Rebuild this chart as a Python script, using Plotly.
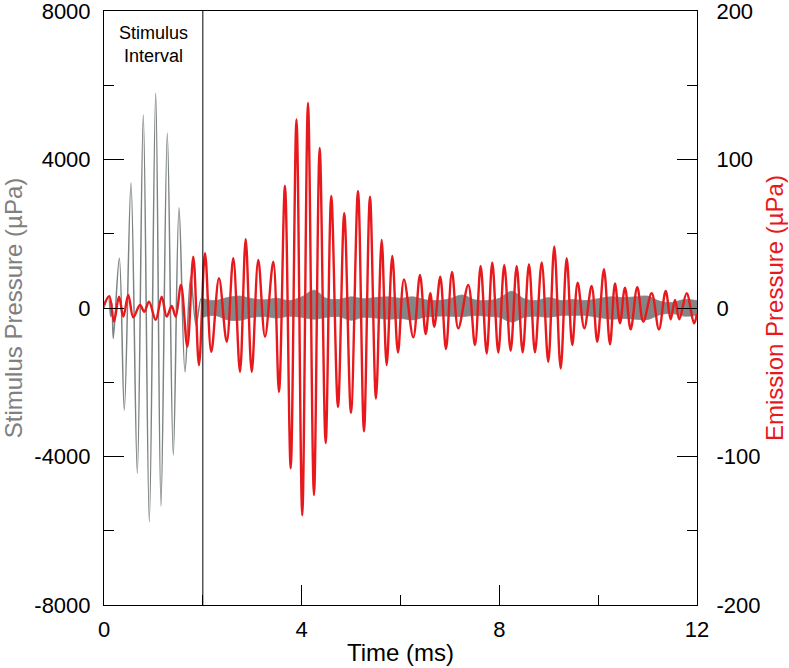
import plotly.graph_objects as go

# ---- colours ----
COLOR_STIM = "#7d8282"     # stimulus trace (grey)
COLOR_BAND = "#858585"     # residual stimulus noise band
COLOR_EMIT = "#e8191c"     # emission trace (red)
FONT = "Liberation Sans, Arial, sans-serif"

# ---- data ----
# stimulus tone burst, extrema in time order (ms, µPa)
stim_t = [0.000, 0.087, 0.136, 0.162, 0.188, 0.310, 0.411, 0.546, 0.674, 0.795,
          0.917, 1.046, 1.153, 1.281, 1.402, 1.518, 1.639, 1.754, 1.862, 1.963, 2.020]
stim_p = [0, 300, -230, 130, -820, 1340, -2750, 3370, -4450, 5200,
          -5760, 5790, -5340, 4710, -3960, 2700, -1720, 840, -450, 250, 0]

# residual stimulus after the interval: upper / lower envelope of the noise band
band_t = [2.00, 2.25, 2.50, 2.75, 3.00, 3.25, 3.50, 3.75, 4.00, 4.25, 4.50,
          4.75, 5.00, 5.25, 5.50, 5.75, 6.00, 6.25, 6.50, 6.75, 7.00,
          7.25, 7.50, 7.75, 8.00, 8.25, 8.50, 8.75, 9.00, 9.25, 9.50,
          9.75, 10.00, 10.25, 10.50, 10.75, 11.00, 11.25, 11.50, 11.75, 12.00]
band_hi = [250, 200, 280, 320, 250, 220, 260, 200, 300, 480, 260,
           230, 300, 250, 280, 300, 260, 300, 220, 200, 250,
           350, 220, 200, 260, 450, 250, 200, 280, 200, 230,
           200, 250, 300, 280, 300, 320, 180, 150, 230, 200]
band_lo = [-250, -200, -320, -330, -250, -230, -270, -220, -250, -300, -250,
           -230, -330, -250, -270, -300, -280, -320, -240, -220, -220,
           -230, -200, -220, -250, -380, -250, -220, -250, -200, -200,
           -200, -250, -300, -280, -300, -310, -180, -150, -220, -200]

# emission, extrema in time order (ms, µPa)
emit_t = [0.000, 0.107, 0.202, 0.304, 0.391, 0.492, 0.593, 0.728, 0.815, 0.911,
          1.046, 1.168, 1.269, 1.370, 1.451, 1.558, 1.686, 1.807, 1.922, 2.044,
          2.171, 2.327, 2.483, 2.616, 2.752, 2.867, 2.989, 3.122, 3.258, 3.426,
          3.541, 3.662, 3.778, 3.895, 4.012, 4.128, 4.249, 4.365, 4.486, 4.599,
          4.735, 4.862, 4.998, 5.140, 5.261, 5.382, 5.504, 5.619, 5.720, 5.834,
          5.949, 6.070, 6.259, 6.394, 6.510, 6.603, 6.684, 6.805, 6.920, 7.042,
          7.169, 7.371, 7.507, 7.622, 7.744, 7.857, 7.979, 8.100, 8.229, 8.351,
          8.472, 8.600, 8.721, 8.857, 8.990, 9.112, 9.241, 9.363, 9.476, 9.585,
          9.719, 9.868, 9.982, 10.117, 10.239, 10.340, 10.441, 10.542, 10.658, 10.791,
          10.913, 11.083, 11.230, 11.366, 11.467, 11.554, 11.642, 11.791, 11.939, 12.000]
emit_p = [2, 8, -9.2, 7.6, -5.8, 8.8, -6.3, 2, -2.5, 4.3,
          -8, 7.6, -5.8, 1.3, -5.8, 15.5, -26, 34.6, -38.5, 36.9,
          -29.5, 20, -22.7, 33.5, -43, 46.3, -43, 32.4, -19.4, 31.2,
          -56.5, 82.3, -108, 127, -139.6, 138, -126, 107.7, -91, 75.5,
          -66.6, 63.9, -70.6, 78.9, -83, 75, -61, 45.9, -38.4, 35,
          -30, 19.3, -19.8, 22.3, -17.5, 9.9, -12.6, 21.1, -27.7, 24.3,
          -13.7, 15.5, -25, 28.3, -30.6, 30.6, -30, 29, -28.8, 28.3,
          -29.9, 29.5, -29.9, 30.6, -36.2, 41.4, -40.7, 33.5, -25, 17.1,
          -13.7, 14.8, -22.7, 26.1, -24.5, 16.6, -10.3, 13.7, -14.4, 14,
          -9.2, 9.9, -14.4, 11.5, -7.6, 5.4, -7.6, 9.9, -10.3, -4]

STIM_END = 2.0   # end of stimulus interval (ms)

x_ticks = [0, 4, 8, 12]
x_minor = [2, 6, 10]
y1_ticks = [-8000, -4000, 0, 4000, 8000]
y1_minor = [-6000, -2000, 2000, 6000]
y2_ticks = [-200, -100, 0, 100, 200]
y2_minor = [-150, -50, 50, 150]

fig = go.Figure()

# noise band (residual stimulus)
fig.add_trace(go.Scatter(
    x=band_t, y=band_hi, mode="lines",
    line=dict(color=COLOR_BAND, width=0.8, shape="spline"),
    showlegend=False, hoverinfo="skip",
))
fig.add_trace(go.Scatter(
    x=band_t, y=band_lo, mode="lines",
    line=dict(color=COLOR_BAND, width=0.8, shape="spline"),
    fill="tonexty", fillcolor=COLOR_BAND,
    showlegend=False, hoverinfo="skip",
))

# stimulus burst
fig.add_trace(go.Scatter(
    x=stim_t, y=stim_p, mode="lines",
    line=dict(color=COLOR_STIM, width=1.5, shape="spline"),
    showlegend=False,
))

# emission on the right axis
fig.add_trace(go.Scatter(
    x=emit_t, y=emit_p, mode="lines", yaxis="y2",
    line=dict(color=COLOR_EMIT, width=2.4, shape="spline"),
    showlegend=False,
))

# stimulus interval marker
fig.add_shape(type="line", xref="x", yref="paper",
              x0=STIM_END, x1=STIM_END, y0=0, y1=1,
              line=dict(color="black", width=1))
fig.add_annotation(x=STIM_END / 2, xref="x", y=0.983, yref="paper",
                   text="Stimulus<br>Interval", showarrow=False,
                   xanchor="center", yanchor="top", align="center",
                   font=dict(family=FONT, size=18, color="black"))

axis_common = dict(
    showgrid=False, zeroline=False, automargin=False,
    showline=True, linecolor="black", linewidth=1,
    ticks="inside", ticklen=20, tickcolor="black", tickwidth=1,
    tickfont=dict(family=FONT, size=22, color="black"),
    ticklabeloverflow="allow",
)

fig.update_layout(
    width=789, height=668, autosize=False,
    paper_bgcolor="white", plot_bgcolor="white",
    margin=dict(l=104, r=92, t=11, b=63),
    font=dict(family=FONT),
    xaxis=dict(
        range=[0, 12], tickmode="array", tickvals=x_ticks,
        ticktext=[str(v) for v in x_ticks], mirror=True,
        minor=dict(tickmode="array", tickvals=x_minor, ticks="inside",
                   ticklen=10, tickcolor="black"),
        title=dict(text="Time (ms)", standoff=2,
                   font=dict(family=FONT, size=24, color="black")),
        ticklabelstandoff=5,
        **axis_common,
    ),
    yaxis=dict(
        range=[-8000, 8000], tickmode="array", tickvals=y1_ticks,
        ticktext=[str(v) for v in y1_ticks],
        minor=dict(tickmode="array", tickvals=y1_minor, ticks="inside",
                   ticklen=10, tickcolor="black"),
        title=dict(text="Stimulus Pressure (µPa)", standoff=4,
                   font=dict(family=FONT, size=24, color="#808080")),
        ticklabelstandoff=8,
        **axis_common,
    ),
    yaxis2=dict(
        range=[-200, 200], overlaying="y", side="right",
        tickmode="array", tickvals=y2_ticks,
        ticktext=[str(v) for v in y2_ticks],
        minor=dict(tickmode="array", tickvals=y2_minor, ticks="inside",
                   ticklen=10, tickcolor="black"),
        title=dict(text="Emission Pressure (µPa)", standoff=6,
                   font=dict(family=FONT, size=24, color=COLOR_EMIT)),
        ticklabelstandoff=14,
        **axis_common,
    ),
)

# drop the page's default body margin so the figure sits at the window origin
fig.write_html("out.html", config={"displayModeBar": False},
               post_script="document.body.style.margin = '0';")
